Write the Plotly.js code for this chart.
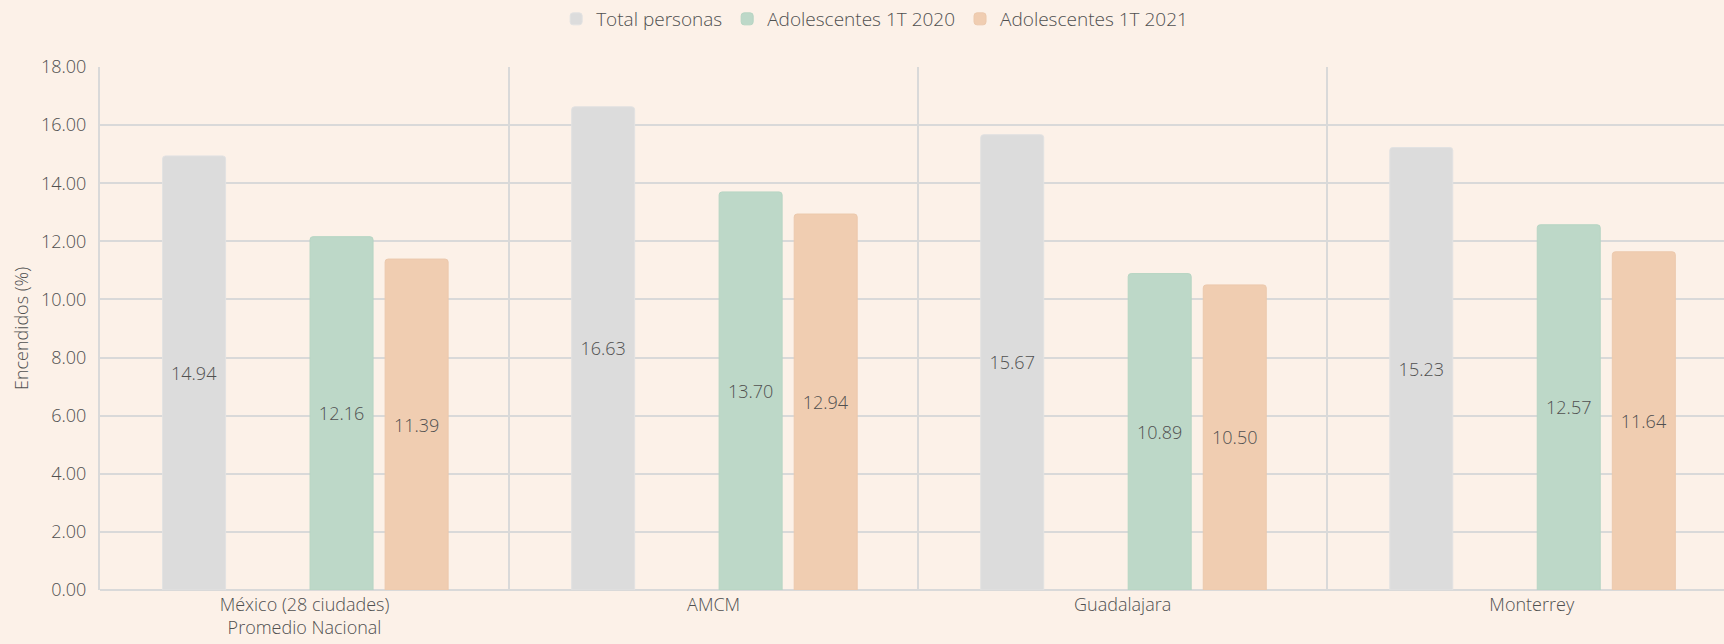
<!DOCTYPE html>
<html>
<head>
<meta charset="utf-8">
<script src="https://cdn.plot.ly/plotly-3.0.1.min.js"></script>
<style>html,body{margin:0;padding:0;background:#fcf1e8;}#chart{width:1724px;height:644px;}</style>
</head>
<body>
<div id="chart"></div>
<script>
const categories = ["México (28 ciudades)<br>Promedio Nacional", "AMCM", "Guadalajara", "Monterrey"];
const seriesNames = ["Total personas", "Adolescentes 1T 2020", "Adolescentes 1T 2021"];
const totalPersonas = [14.94, 16.63, 15.67, 15.23];
const adolescentes2020 = [12.16, 13.70, 10.89, 12.57];
const adolescentes2021 = [11.39, 12.94, 10.50, 11.64];
const yTicks = [0, 2, 4, 6, 8, 10, 12, 14, 16, 18];

const fontFam = "'Open Sans', Lato, sans-serif";
const textColor = "#505050";
const fw = 300;
const barW = 0.154;

function barTrace(name, vals, color, lineColor, offset) {
  return {
    type: "bar", name: name, x: categories, y: vals,
    width: barW, offset: offset,
    marker: {color: color, line: {color: lineColor, width: 1}, cornerradius: 3},
    text: vals.map(v => v.toFixed(2)),
    textposition: "inside", insidetextanchor: "middle",
    textfont: {family: fontFam, size: 18, color: textColor, weight: fw},
    hoverinfo: "x+y"
  };
}

const data = [
  barTrace(seriesNames[0], totalPersonas, "#dcdcdc", "#e2e2e2", -0.347),
  barTrace(seriesNames[1], adolescentes2020, "#bdd8c8", "#b6d5c3", 0.0135),
  barTrace(seriesNames[2], adolescentes2021, "#f0cdb1", "#ecc9ad", 0.197)
];

const layout = {
  width: 1724, height: 644,
  paper_bgcolor: "#fcf1e8", plot_bgcolor: "#fcf1e8",
  margin: {l: 100, r: 0, t: 66, b: 54},
  font: {family: fontFam, color: textColor, size: 18, weight: fw},
  showlegend: true,
  legend: {orientation: "h", x: 0.477, xanchor: "center", y: 1.092, yanchor: "middle",
           font: {family: fontFam, size: 19, color: textColor, weight: fw}, itemwidth: 30, tracegroupgap: 0,
           bgcolor: "rgba(0,0,0,0)"},
  barmode: "overlay",
  xaxis: {
    type: "category", range: [-0.5, 3.47],
    tickson: "boundaries", showgrid: true, gridcolor: "#d9d9d9", gridwidth: 2,
    ticks: "", showline: false, zeroline: false, ticklabelstandoff: 2,
    tickfont: {family: fontFam, size: 18, color: textColor, weight: fw}, fixedrange: true
  },
  yaxis: {
    range: [0, 18], tickvals: yTicks, ticktext: yTicks.map(v => v.toFixed(2)),
    showgrid: true, gridcolor: "#d9d9d9", gridwidth: 2,
    showline: true, linecolor: "#d9d9d9", linewidth: 2,
    zeroline: true, zerolinecolor: "#d9d9d9", zerolinewidth: 2,
    ticks: "", ticklen: 0, ticklabelstandoff: 8,
    tickfont: {family: fontFam, size: 18, color: textColor, weight: fw},
    title: {text: "Encendidos (%)", font: {family: fontFam, size: 18, color: textColor, weight: fw}, standoff: 8},
    fixedrange: true
  }
};

Plotly.newPlot("chart", data, layout, {displayModeBar: false, staticPlot: true});
</script>
</body>
</html>
